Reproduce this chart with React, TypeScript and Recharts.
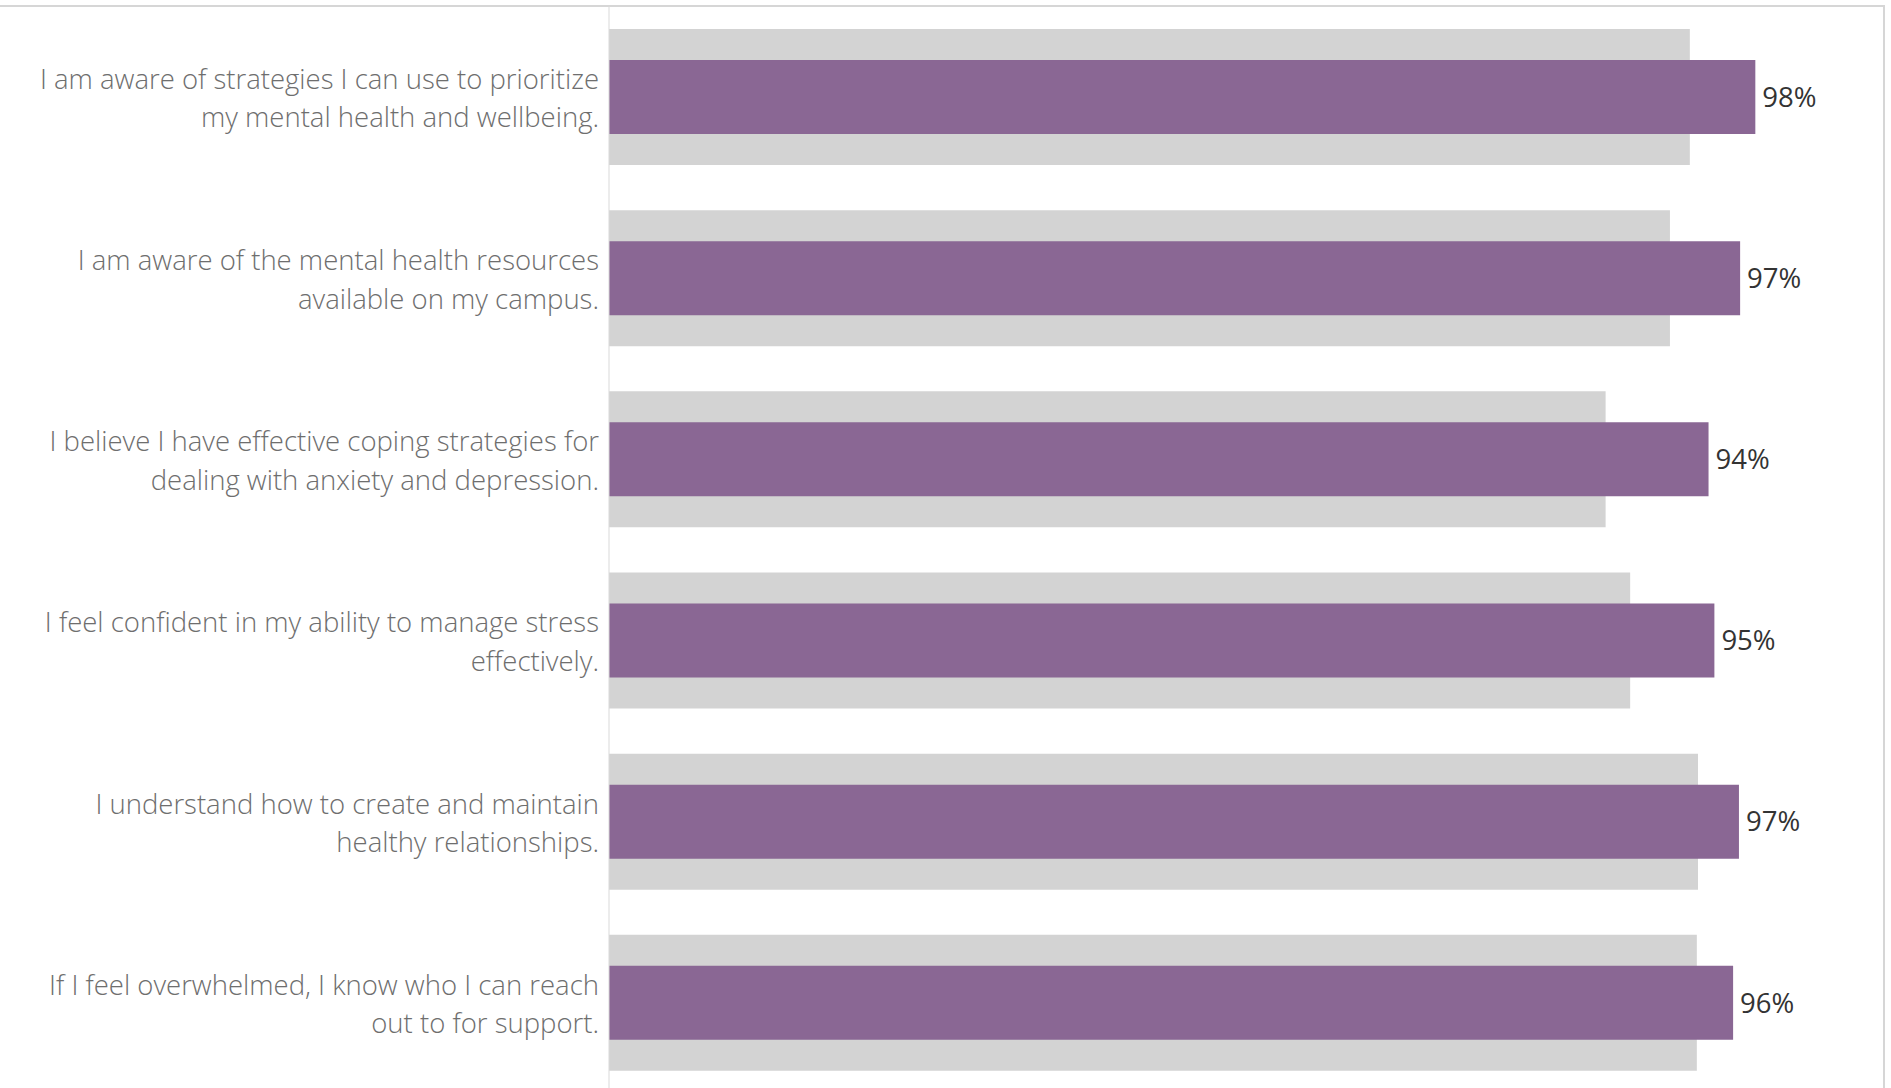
import React from "react";
import { BarChart, Bar, XAxis, YAxis, LabelList } from "recharts";

// survey statements, split where the original wraps them
const statementLines: string[][] = [
  ["I am aware of strategies I can use to prioritize", "my mental health and wellbeing."],
  ["I am aware of the mental health resources", "available on my campus."],
  ["I believe I have effective coping strategies for", "dealing with anxiety and depression."],
  ["I feel confident in my ability to manage stress", "effectively."],
  ["I understand how to create and maintain", "healthy relationships."],
  ["If I feel overwhelmed, I know who I can reach", "out to for support."],
];

// % agree: current (purple) and comparison (grey)
const current = [98.0, 96.7, 94.0, 94.5, 96.6, 96.1];
const comparison = [92.4, 90.7, 85.2, 87.3, 93.1, 93.0];

const categories = statementLines.map((l) => l.join(" "));

const data = categories.map((statement, i) => ({
  statement,
  current: current[i],
  comparison: comparison[i],
}));

const PURPLE = "#8a6794";
const GREY = "#d3d3d3";

function StatementTick(props: any) {
  const { x, y, payload, index } = props;
  const lines = statementLines[index] ?? [payload.value];
  const lh = 38.6;
  const start = y - ((lines.length - 1) * lh) / 2;
  return (
    <text
      x={x}
      y={start}
      textAnchor="end"
      fill="#6e6e6e"
      fontFamily="'Open Sans', sans-serif"
      fontWeight={300}
      fontSize={27.5}
    >
      {lines.map((line: string, i: number) => (
        <tspan key={i} x={x} y={start + i * lh} dy="0.42em">
          {line}
        </tspan>
      ))}
    </text>
  );
}

export default function App() {
  return (
    <div
      style={{
        position: "fixed",
        left: 0,
        top: 0,
        width: 1891,
        height: 1088,
        overflow: "hidden",
        background: "#fff",
      }}
    >
      <div
        style={{
          position: "absolute",
          left: 0,
          top: 5,
          width: 1885,
          height: 1100,
          borderTop: "2px solid #d6d6d6",
          borderRight: "2px solid #d6d6d6",
          boxSizing: "border-box",
        }}
      />
      <BarChart
        width={1891}
        height={1100}
        data={data}
        layout="vertical"
        margin={{ top: 6, right: 7, bottom: 7, left: 0 }}
        barCategoryGap={0}
      >
        <XAxis type="number" domain={[0, 109]} hide />
        <YAxis
          yAxisId="main"
          type="category"
          dataKey="statement"
          width={609}
          tickLine={false}
          tickSize={0}
          tickMargin={10}
          axisLine={{ stroke: "#d9d9d9", strokeWidth: 1 }}
          interval={0}
          tick={<StatementTick />}
        />
        <YAxis yAxisId="back" type="category" dataKey="statement" width={0} hide />
        <Bar
          yAxisId="back"
          dataKey="comparison"
          fill={GREY}
          barSize={136}
          isAnimationActive={false}
        />
        <Bar
          yAxisId="main"
          dataKey="current"
          fill={PURPLE}
          barSize={74}
          isAnimationActive={false}
        >
          <LabelList
            dataKey="current"
            position="right"
            offset={7}
            fill="#333"
            fontSize={27.5}
            fontFamily="'Open Sans', sans-serif"
            formatter={(v: any) => `${Math.round(Number(v))}%`}
          />
        </Bar>
      </BarChart>
    </div>
  );
}
